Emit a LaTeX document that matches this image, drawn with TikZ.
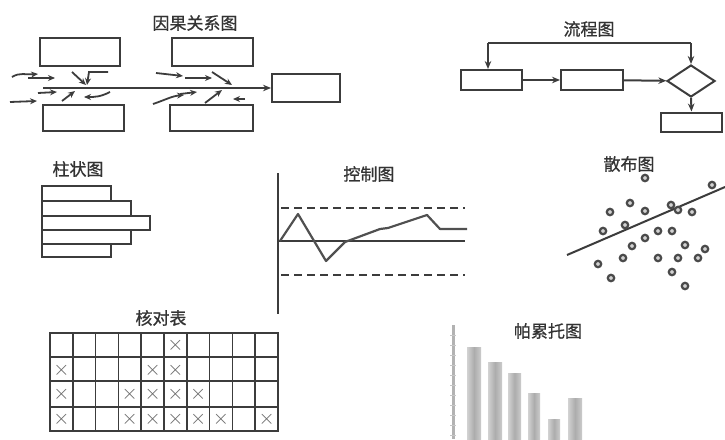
\documentclass[tikz,border=0pt]{standalone}
\usepackage{fontspec}
\newfontfamily\cjk[FakeBold=0.8]{Noto Sans CJK SC}
\usetikzlibrary{shapes.geometric,arrows.meta}
\definecolor{linec}{HTML}{3C3C3C}
\definecolor{textc}{HTML}{333333}
\definecolor{dotc}{HTML}{4A4A4A}
\definecolor{crossc}{HTML}{666666}
\tikzset{
  ttl/.style={font=\cjk\fontsize{17}{17}\selectfont, text=textc, inner sep=0},
  fbox/.style={draw=linec, line width=2pt, inner sep=0, minimum width=#1},
  fbox/.default=80pt,
  sm/.style={draw=linec, line width=1.8pt, -{Stealth[length=7pt,width=6pt]}},
  conn/.style={draw=linec, line width=2pt, -{Stealth[length=8pt,width=6.5pt]}},
  bar/.style={draw=linec, line width=1.8pt},
  dot/.style={draw=dotc, line width=2.2pt, fill=gray!35},
  cr/.style={font=\fontsize{20}{20}\selectfont, text=crossc, inner sep=0},
}
\begin{document}
\begin{tikzpicture}[x=1pt,y=-1pt]
\useasboundingbox (0,0) rectangle (725,439);
\fill[white] (0,0) rectangle (725,439);

% ---------- cause and effect ----------
\node[ttl] (t1) at (195,23) {因果关系图};
\node[fbox, minimum height=28pt] (tl) at (80,52) {};
\node[fbox, minimum height=28pt, minimum width=81pt] (tr) at (212.5,52) {};
\node[fbox, minimum height=26pt, minimum width=81pt] (bl) at (83.5,118) {};
\node[fbox, minimum height=26pt, minimum width=83pt] (br) at (211.5,118) {};
\node[fbox, minimum height=28pt, minimum width=68pt] (eff) at (306,88) {};
\coordinate (sp) at (43,88);
\draw[conn] (sp) -- (eff.west);
% small arrows, left group
\draw[sm] (12,77) .. controls (20,72) and (26,75) .. (38,74);
\draw[sm] (28,78) -- (55,78);
\draw[sm] (72,72) -- (86,85);
\draw[sm] (108,72) -- (89,72) -- (87,85);
\draw[sm] (38,93) -- (57,92);
\draw[sm] (62,101) -- (75,91);
\draw[sm] (110,92) .. controls (100,97) and (95,97) .. (84,97);
\draw[sm] (10,102) -- (37,101);
% small arrows, right group
\draw[sm] (156,73) -- (183,76);
\draw[sm] (185,78) -- (212,78);
\draw[sm] (212,72) -- (232,85);
\draw[sm] (153,104) .. controls (165,100) and (172,96) .. (184,95);
\draw[sm] (180,94) -- (197,92);
\draw[sm] (205,103) -- (222,90);
\draw[sm] (245,99) -- (233,99);

% ---------- flow chart ----------
\node[ttl] (t2) at (589,29) {流程图};
\node[fbox, minimum width=61pt, minimum height=20pt] (f1) at (491.5,80) {};
\node[fbox, minimum width=62pt, minimum height=20pt] (f2) at (592,80) {};
\node[draw=linec, line width=2pt, diamond, inner sep=0, minimum width=48pt, minimum height=32pt] (fd) at (691,81) {};
\node[fbox, minimum width=61pt, minimum height=19pt] (f3) at (691.5,122) {};
\coordinate (ftl) at (488,43);
\coordinate (ftr) at (691,43);
\draw[draw=linec, line width=2pt] (ftl) -- (ftr);
\draw[conn] (ftl) -- (ftl |- f1.north);
\draw[conn] (ftr) -- (fd.north);
\draw[conn] (f1) -- (f2);
\draw[conn] (f2) -- (fd);
\draw[conn] (fd.south) -- (f3.north);

% ---------- bar chart ----------
\node[ttl] (t3) at (78,169) {柱状图};
\draw[bar] (42,186) rectangle (111,201);
\draw[bar] (42,201) rectangle (131,216);
\draw[bar] (42,216) rectangle (150,230);
\draw[bar] (42,230) rectangle (131,244);
\draw[bar] (42,244) rectangle (111,257);

% ---------- control chart ----------
\node[ttl] (t4) at (369,174) {控制图};
\draw[draw=linec, line width=1.8pt] (278,173) -- (278,314);
\draw[draw=linec, line width=1.8pt, dash pattern=on 8pt off 5pt] (281,208) -- (465,208);
\draw[draw=linec, line width=2.2pt] (278,241) -- (465,241);
\draw[draw=linec, line width=1.8pt, dash pattern=on 8pt off 5pt] (281,275) -- (465,275);
\draw[draw=linec!90, line width=2.2pt, line join=round]
  (280,241) -- (298,214) -- (326,261) -- (345,242) -- (380,229) -- (388,228)
  -- (427,215) -- (440,229) -- (467,229);

% ---------- scatter ----------
\node[ttl] (t5) at (629,164) {散布图};
\draw[draw=linec, line width=2pt] (567,255) -- (725,187);
\foreach \p in {(645,178),(712,185),(610,212),(630,203),(645,211),(671,205),(678,210),(692,212),
  (603,231),(625,225),(658,231),(672,231),(645,238),(632,246),(685,245),(705,249),
  (623,258),(658,258),(678,258),(698,258),(598,264),(672,272),(611,278),(685,286)}
  \draw[dot] \p circle (3.2pt);

% ---------- check sheet ----------
\node[ttl] (t6) at (161,318) {核对表};
\foreach \i in {1,...,9} \draw[draw=linec, line width=1.5pt] (50+\i*22.8,333) -- (50+\i*22.8,431);
\foreach \y in {357,381,407} \draw[draw=linec, line width=1.8pt] (50,\y) -- (278,\y);
\draw[draw=linec, line width=2.6pt] (164,333) -- (164,431);
\draw[draw=linec, line width=2.8pt] (50,333) rectangle (278,431);
\foreach \c/\r in {6/1, 1/2,5/2,6/2, 1/3,4/3,5/3,6/3,7/3, 1/4,4/4,5/4,6/4,7/4,8/4,10/4}
  \node[cr] at (50+\c*22.8-11.4, {333+(\r-1)*24.5+12.5}) {$\times$};

% ---------- pareto ----------
\node[ttl] (t7) at (548,331) {帕累托图};
\draw[draw=gray!60, line width=3pt] (453,325) -- (453,439);
\foreach \y in {335,345,...,435} \draw[draw=gray!45, line width=0.8pt] (450,\y) -- (456,\y);
\foreach \a/\b/\t in {467/481/347, 488/502/362, 508/521/373, 528/540/393, 548/560/419, 568/582/398}
  \shade[left color=gray!35, right color=gray!40, middle color=gray!65] (\a,\t) rectangle (\b,439);
\end{tikzpicture}
\end{document}
